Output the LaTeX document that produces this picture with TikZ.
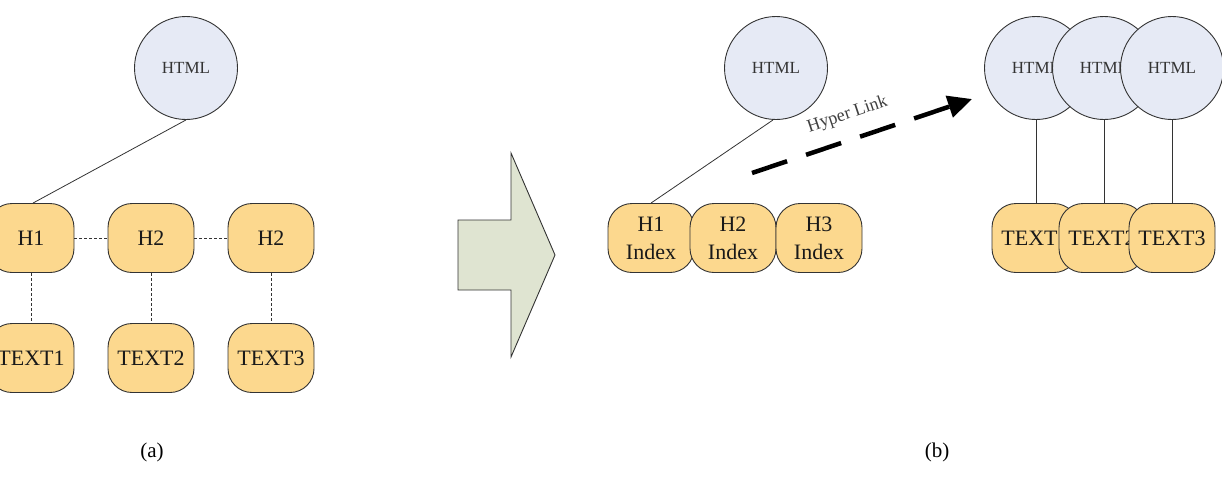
\documentclass[tikz,border=0pt]{standalone}
\usepackage{fontspec}
\setmainfont{Liberation Serif}
\usetikzlibrary{arrows.meta}
\definecolor{boxfill}{HTML}{FCD88E}
\definecolor{circfill}{HTML}{E6EAF5}
\definecolor{arrfill}{HTML}{DFE4D1}
\definecolor{edge}{HTML}{333333}
\begin{document}
\begin{tikzpicture}[x=1pt,y=-1pt,
  hbox/.style={draw=edge, line width=0.9pt, fill=boxfill, rounded corners=24pt,
    minimum width=86pt, minimum height=69pt, inner sep=0pt,
    font=\fontsize{22}{28}\selectfont, align=center, text=black!90},
  hcirc/.style={draw=edge, line width=0.9pt, fill=circfill, circle,
    minimum size=103pt, inner sep=0pt, font=\fontsize{17}{20}\selectfont, text=black!80},
  dline/.style={draw=edge, line width=0.8pt, dash pattern=on 3pt off 2pt},
  sline/.style={draw=edge, line width=0.8pt},
  captext/.style={font=\fontsize{21}{24}\selectfont}
]
\useasboundingbox (0,0) rectangle (1222,499);
% ---------- (a) ----------
\node[hcirc] (ha) at (186,68) {HTML};
\node[hbox] (a1) at (31,238) {H1};
\node[hbox] (a2) at (151,238) {H2};
\node[hbox] (a3) at (271,238) {H2};
\node[hbox] (t1) at (31,358) {TEXT1};
\node[hbox] (t2) at (151,358) {TEXT2};
\node[hbox] (t3) at (271,358) {TEXT3};
\draw[sline] (ha.south) -- ([xshift=2pt]a1.north);
\draw[dline] (a1) -- (a2);
\draw[dline] (a2) -- (a3);
\draw[dline] (a1) -- (t1);
\draw[dline] (a2) -- (t2);
\draw[dline] (a3) -- (t3);
\node[captext] (ca) at (152,452) {(a)};
% ---------- big arrow ----------
\draw[draw=edge, line width=0.9pt, fill=arrfill]
  (458,220) -- (511,220) -- (511,153) -- (555,255) -- (511,357) -- (511,290) -- (458,290) -- cycle;
% ---------- (b) ----------
\node[hcirc] (hb) at (776,68) {HTML};
\node[hbox] (i1) at (651,238) {H1\\Index};
\node[hbox] (i2) at (733,238) {H2\\Index};
\node[hbox] (i3) at (819,238) {H3\\Index};
\draw[sline] ([xshift=-3pt]hb.south) -- (i1.north);
\coordinate (ls) at (752,173);
\coordinate (le) at (972,99);
\draw[black, line width=4.5pt, dash pattern=on 37pt off 20pt,
  -{Triangle[length=24pt,width=22pt]}] (ls) -- (le)
  node[pos=0.47, sloped, above=11pt, font=\fontsize{18}{20}\selectfont, text=black!75] (hl) {Hyper Link};
\node[hcirc] (c1) at (1036,68) {HTML};
\node[hcirc] (c2) at (1104,68) {HTML};
\node[hcirc] (c3) at (1172,68) {HTML};
\node[hbox] (x1) at (1035,238) {TEXT1};
\node[hbox] (x2) at (1102,238) {TEXT2};
\node[hbox] (x3) at (1172,238) {TEXT3};
\draw[sline] (c1.south) -- (x1.north -| c1.south);
\draw[sline] (c2.south) -- (x2.north -| c2.south);
\draw[sline] (c3.south) -- (x3.north -| c3.south);
\node[captext] (cb) at (937,452) {(b)};
\end{tikzpicture}
\end{document}
